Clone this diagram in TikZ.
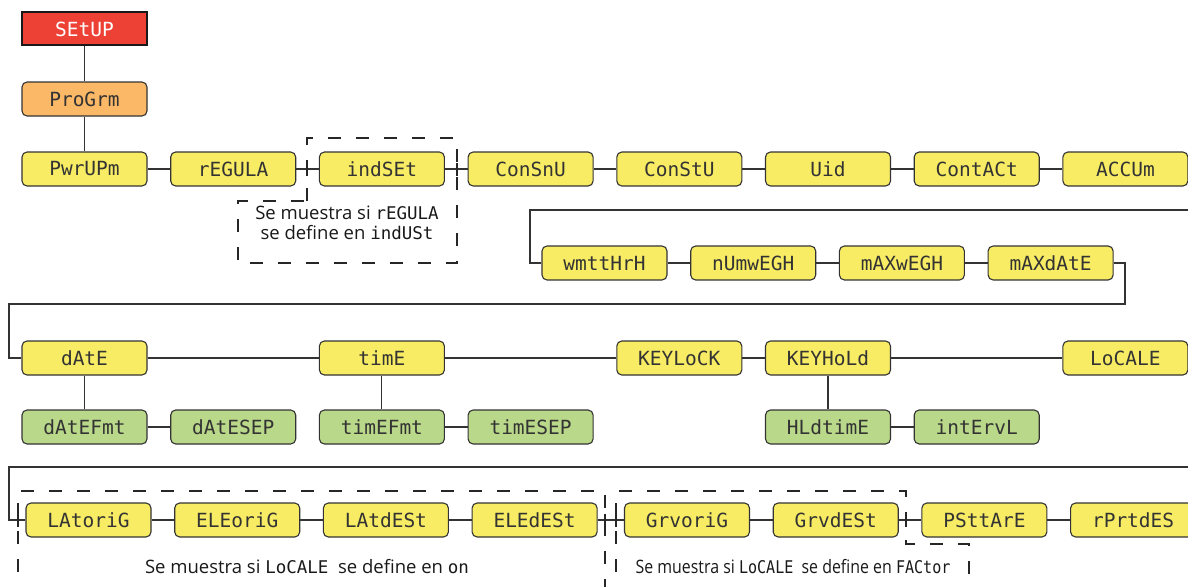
\documentclass[tikz,border=0pt]{standalone}
\usepackage{fontspec}
\setmainfont{Open Sans}
\newfontfamily\segfont{DejaVu Sans Mono}
\usetikzlibrary{calc}

\definecolor{boxyellow}{HTML}{F8EC64}
\definecolor{boxorange}{HTML}{FBB866}
\definecolor{boxgreen}{HTML}{B9D889}
\definecolor{boxred}{HTML}{EE4136}
\definecolor{edge}{HTML}{333333}

% parameter names shown in display lettering inside running text
\newcommand{\dispword}[1]{{\segfont\fontsize{17.5}{17.5}\selectfont #1}}

\begin{document}
\begin{tikzpicture}[x=1pt,y=-1pt,
  menu/.style={rectangle, rounded corners=5pt, draw=edge, line width=1.1pt,
    minimum width=125pt, minimum height=34pt, inner sep=0pt,
    font=\segfont\fontsize{19.5}{19.5}\selectfont, text=black!80},
  ylw/.style={menu, fill=boxyellow},
  grn/.style={menu, fill=boxgreen},
  org/.style={menu, fill=boxorange},
  head/.style={rectangle, draw=black!90, line width=2pt, fill=boxred,
    minimum width=125pt, minimum height=33pt, inner sep=0pt,
    font=\segfont\fontsize{19.5}{19.5}\selectfont, text=white},
  link/.style={draw=edge, line width=1.1pt},
  optbox/.style={draw=black!85, line width=1.5pt, dash pattern=on 13pt off 15pt},
  tick/.style={draw=black!85, line width=1.5pt},
  note/.style={font=\fontsize{18.5}{20}\selectfont, align=center, inner sep=0pt, text=black!90}
]
\useasboundingbox (0,0) rectangle (1188,586);
\clip (0,0) rectangle (1188,586);

% ---- top of the menu tree
\node[head] (setup) at (84.5,29) {SEtUP};
\node[org]  (prog)  at (84.5,99) {ProGrm};

% ---- row 2
\node[ylw] (pwrup)   at (84.5,169)  {PwrUPm};
\node[ylw] (regula)  at (233.2,169) {rEGULA};
\node[ylw] (indset)  at (381.9,169) {indSEt};
\node[ylw] (consnu)  at (530.6,169) {ConSnU};
\node[ylw] (constu)  at (679.3,169) {ConStU};
\node[ylw] (uid)     at (828,169)   {Uid};
\node[ylw] (contact) at (976.7,169) {ContACt};
\node[ylw] (accum)   at (1125.4,169){ACCUm};

% ---- row 3
\node[ylw] (watt)    at (604.5,263)  {wmttHrH};
\node[ylw] (numweg)  at (753.2,263)  {nUmwEGH};
\node[ylw] (maxweg)  at (901.9,263)  {mAXwEGH};
\node[ylw] (maxdate) at (1050.6,263) {mAXdAtE};

% ---- row 4 and its sub-menus
\node[ylw] (date)    at (84.5,358)   {dAtE};
\node[ylw] (time)    at (381.9,358)  {timE};
\node[ylw] (keylock) at (679.3,358)  {KEYLoCK};
\node[ylw] (keyhold) at (828,358)    {KEYHoLd};
\node[ylw] (locale)  at (1125.4,358) {LoCALE};

\node[grn] (datefmt) at (84.5,427)  {dAtEFmt};
\node[grn] (datesep) at (233.2,427) {dAtESEP};
\node[grn] (timefmt) at (381.9,427) {timEFmt};
\node[grn] (timesep) at (530.6,427) {timESEP};
\node[grn] (hldtime) at (828,427)   {HLdtimE};
\node[grn] (intervl) at (976.7,427) {intErvL};

% ---- row 5
\node[ylw] (latorig) at (88.5,520)   {LAtoriG};
\node[ylw] (eleorig) at (237.2,520)  {ELEoriG};
\node[ylw] (latdest) at (385.9,520)  {LAtdESt};
\node[ylw] (eledest) at (534.6,520)  {ELEdESt};
\node[ylw] (grvorig) at (687,520)    {GrvoriG};
\node[ylw] (grvdest) at (835.7,520)  {GrvdESt};
\node[ylw] (pstare)  at (984.4,520)  {PSttArE};
\node[ylw] (rprtdes) at (1133.1,520) {rPrtdES};

% ---- wrap-around corners
\coordinate (wrapA) at (1200,210);
\coordinate (wrapB) at (530,210);
\coordinate (wrapC) at (1125,304);
\coordinate (wrapD) at (9,304);
\coordinate (wrapE) at (1200,467);
\coordinate (wrapF) at (9,467);

% ---- connectors
\draw[link] (setup) -- (prog);
\draw[link] (prog) -- (pwrup);
\draw[link] (pwrup) -- (regula) -- (indset) -- (consnu) -- (constu) -- (uid) -- (contact) -- (accum);
\draw[link] (accum.east) -| (wrapA) -- (wrapB) |- (watt.west);
\draw[link] (watt) -- (numweg) -- (maxweg) -- (maxdate);
\draw[link] (maxdate.east) -| (wrapC) -- (wrapD) |- (date.west);
\draw[link] (date) -- (time) -- (keylock) -- (keyhold) -- (locale);
\draw[link] (date) -- (datefmt) -- (datesep);
\draw[link] (time) -- (timefmt) -- (timesep);
\draw[link] (keyhold) -- (hldtime) -- (intervl);
\draw[link] (locale.east) -| (wrapE) -- (wrapF) |- (latorig.west);
\draw[link] (latorig) -- (eleorig) -- (latdest) -- (eledest) -- (grvorig) -- (grvdest) -- (pstare) -- (rprtdes);

% ---- optional-item frames
\draw[optbox] (307,201) -- (307,138) -- (457,138) -- (457,263) -- (238,263) -- (238,201) -- cycle;
\draw[tick] (307,162.5) -- (307,175.5);
\draw[tick] (457,162.5) -- (457,175.5);

\draw[optbox] (18,600) -- (18,491) -- (605,491) -- (605,600);
\draw[optbox] (616,600) -- (616,491) -- (906,491) -- (906,544) -- (969,544) -- (969,600);
\draw[tick] (18,513.5) -- (18,526.5);
\draw[tick] (605,513.5) -- (605,526.5);
\draw[tick] (616,513.5) -- (616,526.5);
\draw[tick] (906,513.5) -- (906,526.5);

% ---- notes
\node[note] (note1) at (347,223) {Se muestra si \dispword{rEGULA}\\se define en \dispword{indUSt}};
\node[note] (note2) at (307,567) {Se muestra si \dispword{LoCALE}\ \ se define en \dispword{on}};
\node[note] (note3) at (793,567) {\scalebox{0.86}[1]{Se muestra si \dispword{LoCALE}\ \ se define en \dispword{FACtor}}};
\end{tikzpicture}
\end{document}
